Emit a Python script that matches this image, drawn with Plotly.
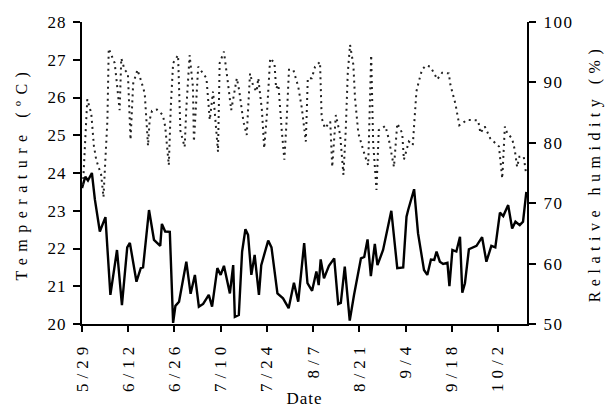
import pandas as pd
import plotly.graph_objects as go

START = "2012-05-29"
YEAR = "2012"

# Temperature: days since 5/29 and values (°C)
temp_day = [0.0, 1.0, 1.8, 3.0, 3.9, 5.4, 7.1, 8.6, 10.6, 12.1,
            13.7, 14.5, 16.5, 17.8, 18.5, 20.3, 21.8, 23.7, 24.2, 25.2,
            26.6, 27.6, 28.3, 29.4, 31.6, 32.9, 34.2, 35.4, 36.7, 38.4,
            39.4, 41.0, 42.0, 43.0, 44.8, 45.8, 46.3, 47.5, 48.5, 49.5,
            50.3, 51.3, 52.3, 53.6, 54.3, 56.4, 57.4, 59.2, 60.9, 62.6,
            64.2, 65.5, 67.3, 68.3, 69.7, 71.0, 71.7, 72.3, 73.3, 74.8,
            76.4, 77.6, 78.4, 79.6, 81.1, 82.4, 84.5, 85.5, 86.5, 87.5,
            88.7, 89.5, 91.2, 93.7, 95.5, 97.3, 98.3, 98.8, 100.6, 101.8,
            103.6, 104.6, 105.7, 106.7, 107.4, 108.4, 109.4, 110.7, 111.3, 112.2,
            113.4, 114.5, 115.2, 116.0, 117.2, 119.5, 121.2, 122.5, 124.0, 125.2,
            126.6, 127.6, 129.1, 130.3, 131.3, 132.6, 133.6, 134.6]
temp_val = [23.6, 23.9, 23.8, 24.0, 23.3, 22.45, 22.83, 20.77, 21.96, 20.5,
            22.03, 22.15, 21.12, 21.48, 21.5, 23.02, 22.23, 22.07, 22.65, 22.45,
            22.44, 20.03, 20.48, 20.59, 21.65, 20.8, 21.3, 20.46, 20.53, 20.77,
            20.46, 21.48, 21.3, 21.54, 20.81, 21.56, 20.19, 20.24, 21.92, 22.51,
            22.36, 21.3, 21.83, 20.77, 21.56, 22.21, 22.03, 20.81, 20.68, 20.42,
            21.09, 20.59, 22.14, 21.08, 20.88, 21.39, 21.03, 21.71, 21.21, 21.54,
            21.74, 20.53, 20.56, 21.52, 20.09, 20.77, 21.74, 21.78, 22.24, 21.27,
            22.12, 21.56, 21.96, 23.0, 21.48, 21.5, 22.84, 23.02, 23.57, 22.4,
            21.43, 21.3, 21.71, 21.7, 21.92, 21.65, 21.59, 21.62, 21.0, 21.96,
            21.92, 22.31, 20.83, 21.08, 21.98, 22.07, 22.3, 21.65, 22.07, 22.03,
            22.95, 22.86, 23.15, 22.53, 22.71, 22.62, 22.71, 23.5]

# Relative humidity: days since 5/29 and values (%)
rh_day = [0.3, 1.6, 2.8, 3.6, 4.3, 5.8, 6.5, 7.1, 7.7, 8.1,
          8.9, 9.9, 10.4, 11.4, 11.9, 12.9, 13.9, 14.7, 15.5, 16.8,
          18.0, 19.0, 20.0, 20.5, 21.2, 22.7, 24.5, 25.2, 26.3, 26.9,
          27.6, 29.1, 29.8, 31.1, 31.6, 32.6, 33.6, 33.9, 35.2, 37.7,
          38.7, 39.7, 41.2, 41.7, 43.0, 43.8, 44.3, 45.2, 46.9, 47.6,
          48.9, 49.9, 50.9, 51.9, 52.9, 53.4, 54.5, 55.2, 56.0, 57.0,
          58.3, 58.8, 59.5, 60.5, 61.3, 62.0, 62.7, 64.0, 65.5, 66.6,
          67.8, 68.4, 69.6, 70.6, 72.1, 72.6, 73.6, 75.2, 75.8, 76.9,
          78.2, 79.2, 79.9, 80.5, 81.2, 82.2, 82.7, 83.7, 84.8, 85.8,
          86.7, 87.6, 88.2, 89.2, 89.9, 91.9, 92.9, 94.5, 95.5, 97.0,
          97.5, 99.0, 100.2, 100.8, 101.3, 102.0, 103.0, 104.2, 105.5, 106.7,
          107.6, 109.1, 111.1, 111.6, 113.1, 114.3, 116.7, 120.0, 120.7, 122.0,
          123.7, 126.3, 127.3, 128.1, 128.8, 130.3, 131.1, 131.8, 132.5, 133.8,
          134.5]
rh_val = [73.0, 87.2, 84.9, 79.5, 77.2, 74.7, 71.0, 77.2, 83.8, 95.6,
          94.5, 93.2, 90.7, 85.4, 94.0, 92.1, 91.5, 80.5, 89.8, 92.1,
          90.1, 88.2, 79.5, 83.8, 85.3, 85.5, 84.6, 82.7, 76.3, 86.0,
          93.2, 94.5, 82.0, 79.3, 85.7, 94.5, 89.3, 80.2, 92.6, 90.7,
          83.8, 88.5, 78.5, 93.2, 95.1, 92.0, 89.5, 85.4, 90.7, 88.7,
          83.5, 81.3, 91.5, 89.3, 88.5, 90.7, 85.4, 79.1, 84.6, 94.0,
          93.2, 89.0, 89.6, 82.1, 77.2, 83.8, 92.1, 92.1, 89.3, 85.7,
          80.2, 90.7, 90.7, 92.6, 93.4, 84.1, 82.4, 83.5, 76.0, 84.6,
          81.3, 74.7, 82.1, 91.5, 96.2, 92.9, 87.4, 81.6, 79.4, 77.7,
          76.3, 94.5, 80.0, 72.2, 82.1, 82.8, 80.7, 76.0, 83.2, 81.6,
          77.2, 80.2, 79.6, 84.9, 88.5, 90.1, 92.1, 92.8, 92.6, 91.5,
          90.5, 91.6, 91.5, 89.6, 86.5, 82.9, 83.8, 83.7, 81.6, 82.7,
          80.7, 79.4, 74.1, 82.7, 81.6, 80.7, 78.8, 76.0, 77.7, 77.7,
          75.0]

x_ticks = ["5/29", "6/12", "6/26", "7/10", "7/24", "8/7", "8/21", "9/4", "9/18", "10/2"]
temp_ticks = [20, 21, 22, 23, 24, 25, 26, 27, 28]
rh_ticks = [50, 60, 70, 80, 90, 100]

start = pd.Timestamp(START)
temp_x = start + pd.to_timedelta(temp_day, unit="D")
rh_x = start + pd.to_timedelta(rh_day, unit="D")
tick_dates = pd.to_datetime([YEAR + "/" + t for t in x_ticks])

FONT = "Liberation Serif"


def spaced(s, px):
    return f'<span style="letter-spacing:{px}px">{s}</span>'


fig = go.Figure()
fig.add_trace(go.Scatter(x=rh_x, y=rh_val, mode="lines", yaxis="y2",
                         line=dict(color="#222222", width=2, dash="2px,4px"),
                         name="Relative humidity"))
fig.add_trace(go.Scatter(x=temp_x, y=temp_val, mode="lines",
                         line=dict(color="black", width=2.4),
                         name="Temperature"))

fig.update_layout(
    width=615, height=408,
    margin=dict(l=82, r=88, t=22, b=84, autoexpand=False),
    paper_bgcolor="white", plot_bgcolor="white",
    showlegend=False,
    font=dict(family=FONT, size=17, color="black"),
    xaxis=dict(
        range=[start, start + pd.Timedelta(days=134.8)],
        tickvals=tick_dates, ticktext=[spaced(t, 5) for t in x_ticks],
        tickfont=dict(size=17), ticklabelstandoff=3, automargin=False,
        tickangle=-90, ticks="outside", ticklen=6, tickwidth=1.5, tickcolor="black",
        showline=True, linecolor="black", linewidth=2, showgrid=False, zeroline=False,
        title=dict(text=spaced("Date", 1), font=dict(size=17), standoff=18),
    ),
    yaxis=dict(
        range=[20, 28], tickvals=temp_ticks, ticktext=[spaced(str(v), 1) for v in temp_ticks],
        tickfont=dict(size=17), ticklabelstandoff=3, automargin=False,
        ticks="outside", ticklen=7, tickwidth=1.5, tickcolor="black",
        showline=True, linecolor="black", linewidth=2, showgrid=False, zeroline=False,
        title=dict(text=spaced("Temperature (ºC)", 6.5), font=dict(size=16), standoff=16),
    ),
    yaxis2=dict(
        range=[50, 100], tickvals=rh_ticks, ticktext=[spaced(str(v), 1.5) for v in rh_ticks],
        tickfont=dict(size=17), ticklabelstandoff=4, automargin=False,
        overlaying="y", side="right",
        ticks="outside", ticklen=7, tickwidth=1.5, tickcolor="black",
        showline=True, linecolor="black", linewidth=2, showgrid=False, zeroline=False,
        title=dict(text=spaced("Relative humidity (%)", 5.5), font=dict(size=16), standoff=16),
    ),
)

fig.write_html("out.html")
